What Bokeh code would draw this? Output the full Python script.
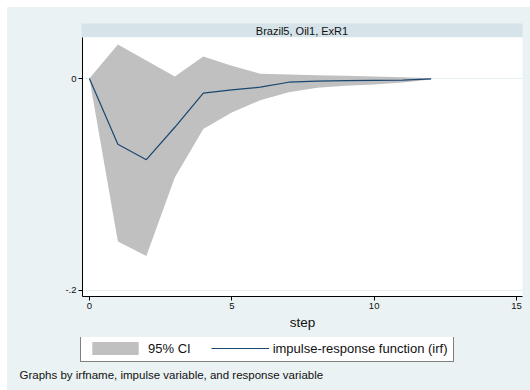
from bokeh.plotting import figure
from bokeh.layouts import column, row
from bokeh.models import (Spacer, FixedTicker, Range1d, Legend, LegendItem,
                          ColumnDataSource)
from bokeh.embed import file_html
from bokeh.resources import INLINE
from bokeh.core.properties import value

# Impulse response of ExR1 to a shock in Oil1 (irf set Brazil5)
steps = [0, 1, 2, 3, 4, 5, 6, 7, 8, 9, 10, 11, 12]
irf = [0, -0.062, -0.0766, -0.046, -0.0137, -0.0107, -0.0082, -0.0035,
       -0.0025, -0.0019, -0.0017, -0.0015, -0.0003]
ci_upper = [0, 0.0322, 0.017, 0.0019, 0.0208, 0.012, 0.0045, 0.0038,
            0.003, 0.0026, 0.002, 0.0012, 0.0003]
ci_lower = [0, -0.1538, -0.1674, -0.0933, -0.0476, -0.032, -0.0205, -0.013,
            -0.0087, -0.0069, -0.0057, -0.0038, -0.001]

panel_title = "Brazil5, Oil1, ExR1"
x_ticks = [0, 5, 10, 15]
y_ticks = [-0.2, 0]
y_tick_labels = {-0.2: "-.2", 0: "0"}
x_title = "step"
ci_label = "95% CI"
irf_label = "impulse-response function (irf)"
note = "Graphs by irfname, impulse variable, and response variable"

FONT = "Liberation Sans"
BG = "#eaf2f3"
STRIP = "#d6e3e9"
BAND = "#c0c0c0"
NAVY = "#1a476f"
INK = "#111111"
WHITE = {"background-color": "white"}
BG_STYLE = {"background-color": BG}

src = ColumnDataSource(dict(step=steps, irf=irf, lo=ci_lower, hi=ci_upper))

# --- by-group header (ranges in pixels, frame covers the whole figure) ---
strip = figure(width=523, height=30, output_backend="svg", toolbar_location=None,
               x_range=Range1d(0, 523), y_range=Range1d(0, 30),
               x_axis_location=None, y_axis_location=None,
               min_border=0, styles=BG_STYLE)
strip.border_fill_color = BG
strip.background_fill_color = BG
strip.outline_line_color = None
strip.grid.visible = False
strip.quad(left=[74], right=[515], bottom=[0], top=[14],
           fill_color=STRIP, line_color=None)
strip.text(x=[294.5], y=[7], text=[panel_title], text_align="center",
           text_baseline="middle", text_font=value(FONT),
           text_font_size="11px", text_color=INK)

# --- main panel ---
p = figure(width=523, height=300, output_backend="svg", toolbar_location=None,
           x_range=Range1d(-0.242, 15.21), y_range=Range1d(-0.2057, 0.0387),
           min_border_left=75, min_border_right=8,
           min_border_top=0, min_border_bottom=41, styles=BG_STYLE)
p.border_fill_color = BG
p.background_fill_color = "white"
p.outline_line_color = None

p.varea(x="step", y1="lo", y2="hi", source=src, fill_color=BAND)
p.line(x="step", y="irf", source=src, line_color=NAVY, line_width=1.2)

p.xgrid.visible = False
p.ygrid.ticker = FixedTicker(ticks=y_ticks)
p.ygrid.grid_line_color = "#e6eef1"
p.ygrid.grid_line_width = 1

for ax in (p.xaxis[0], p.yaxis[0]):
    ax.axis_line_color = "black"
    ax.axis_line_width = 1
    ax.major_tick_line_color = "black"
    ax.major_tick_in = 0
    ax.major_tick_out = 4
    ax.minor_tick_line_color = None
    ax.major_label_text_font = FONT
    ax.major_label_text_font_size = "9.5px"
    ax.major_label_text_color = INK
    ax.major_label_standoff = 2

p.xaxis.ticker = FixedTicker(ticks=x_ticks)
p.yaxis.ticker = FixedTicker(ticks=y_ticks)
p.yaxis.major_label_overrides = y_tick_labels
p.xaxis.axis_label = x_title
p.xaxis.axis_label_text_font = FONT
p.xaxis.axis_label_text_font_style = "normal"
p.xaxis.axis_label_text_font_size = "13.5px"
p.xaxis.axis_label_text_color = INK
p.xaxis.axis_label_standoff = 3

# --- legend and note strip (ranges in pixels) ---
leg = figure(width=523, height=53, output_backend="svg", toolbar_location=None,
             x_range=Range1d(0, 523), y_range=Range1d(0, 53),
             x_axis_location=None, y_axis_location=None,
             min_border=0, styles=BG_STYLE)
leg.border_fill_color = BG
leg.background_fill_color = BG
leg.outline_line_color = None
leg.grid.visible = False

# hidden copies of the two series, used only as legend keys
key_band = leg.varea(x="step", y1="lo", y2="hi", source=src,
                     fill_color=BAND, visible=False)
key_line = leg.line(x="step", y="irf", source=src, line_color=NAVY,
                    line_width=1.2, visible=False)

legend = Legend(items=[LegendItem(label=ci_label, renderers=[key_band]),
                       LegendItem(label=irf_label, renderers=[key_line])],
                orientation="horizontal", location=(73, 28),
                label_text_font=FONT, label_text_font_size="13px",
                label_text_color=INK,
                glyph_width=58, glyph_height=16, label_standoff=4,
                spacing=20, padding=5, margin=0,
                inactive_fill_alpha=0,
                border_line_color="black", border_line_width=1,
                background_fill_color="white", background_fill_alpha=1)
leg.add_layout(legend, "center")

leg.text(x=[12], y=[16], text=[note], text_align="left",
         text_baseline="middle", text_font=value(FONT),
         text_font_size="11.5px", text_color=INK)

page = column(Spacer(width=530, height=7, styles=WHITE),
              row(Spacer(width=7, height=30, styles=WHITE), strip),
              row(Spacer(width=7, height=300, styles=WHITE), p),
              row(Spacer(width=7, height=53, styles=WHITE), leg),
              styles=BG_STYLE)

open("out.html", "w").write(file_html(page, INLINE))
